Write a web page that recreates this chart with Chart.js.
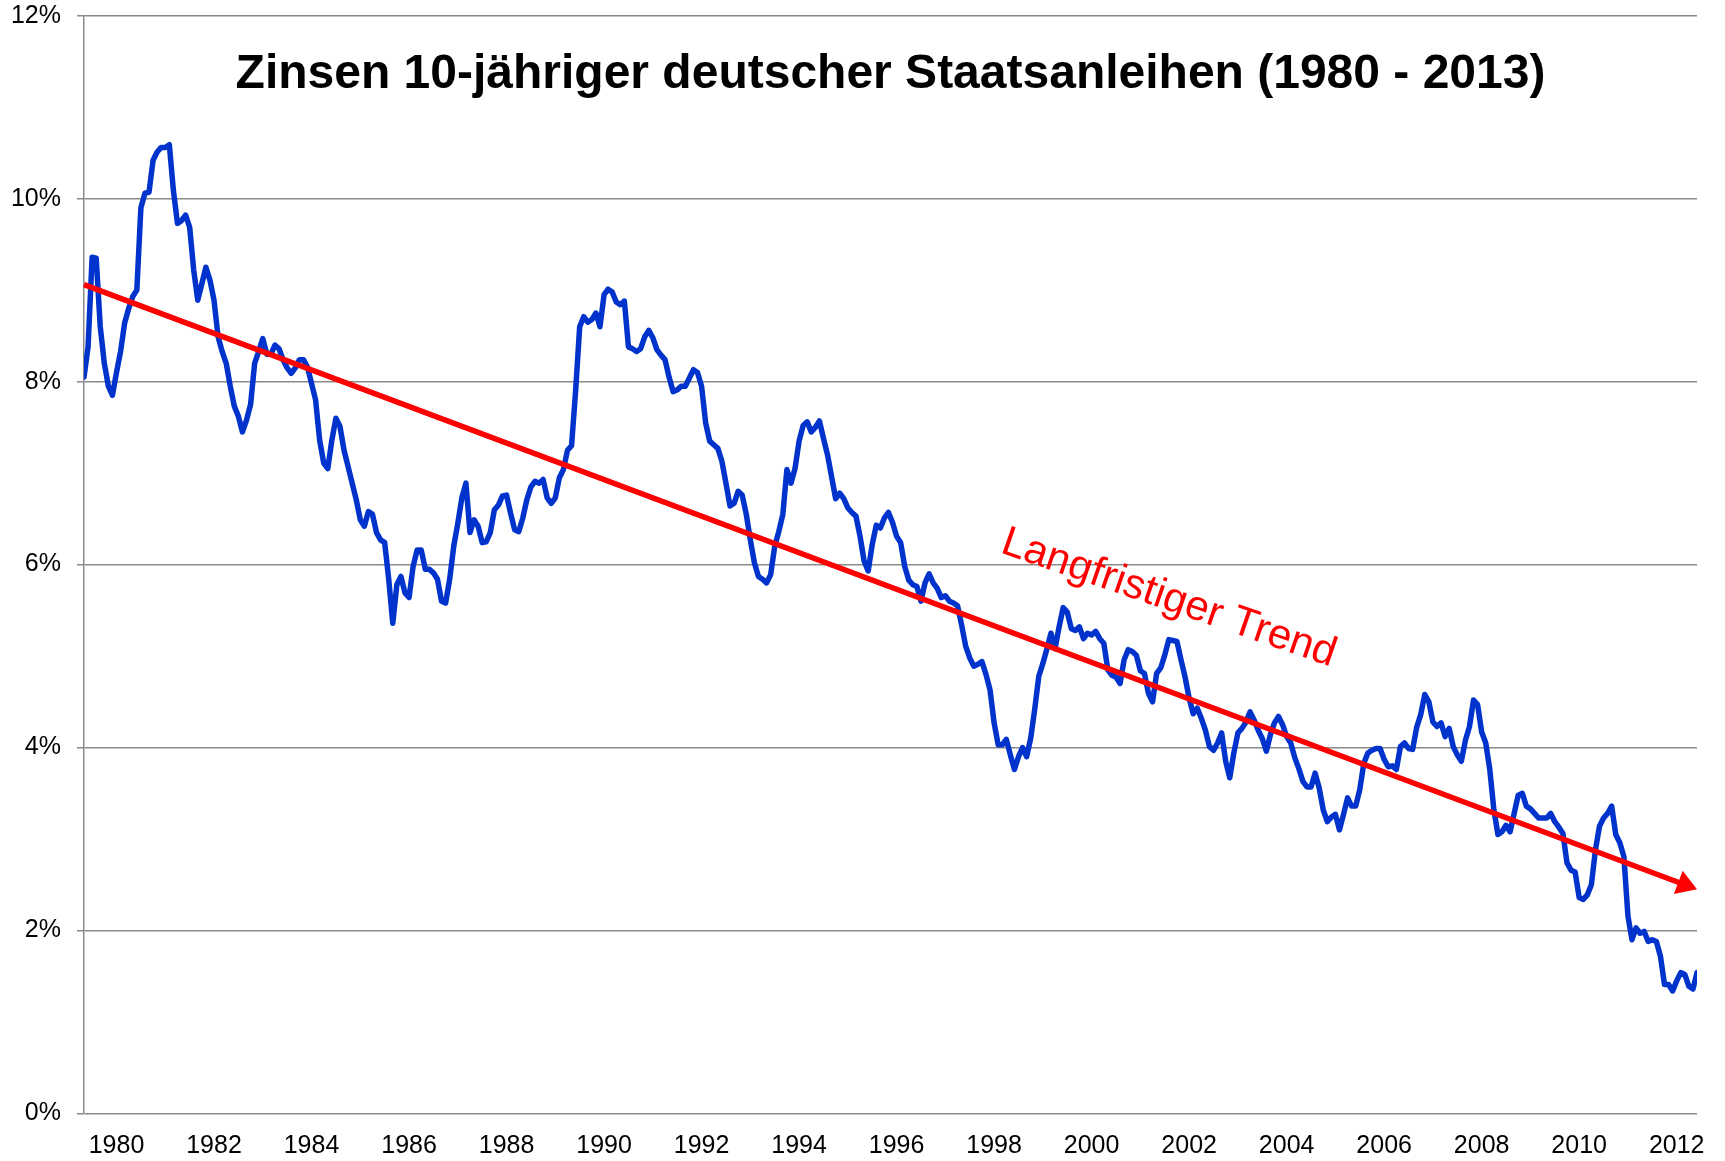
<!DOCTYPE html>
<html>
<head>
<meta charset="utf-8">
<title>Zinsen 10-jähriger deutscher Staatsanleihen</title>
<script src="https://cdn.jsdelivr.net/npm/chart.js@4.4.0/dist/chart.umd.min.js"></script>
<style>
  html, body { margin: 0; padding: 0; background: #fff; }
  #wrap { width: 1725px; height: 1161px; }
</style>
</head>
<body>
<div id="wrap"><canvas id="zinsChart" width="1725" height="1161"></canvas></div>
<script>
// Monatswerte (Rendite in %), Januar 1980 bis Februar 2013
const yields1980s = [
  8.05, 8.38, 9.36, 9.35, 8.6, 8.2, 7.95, 7.85, 8.1, 8.33, 8.64, 8.8,
  8.93, 9.0, 9.9, 10.06, 10.07, 10.42, 10.51, 10.56, 10.56, 10.59, 10.09, 9.73,
  9.76, 9.82, 9.69, 9.22, 8.89, 9.07, 9.25, 9.11, 8.89, 8.49, 8.33, 8.2,
  7.95, 7.73, 7.62, 7.45, 7.58, 7.75, 8.2, 8.33, 8.47, 8.3, 8.3, 8.4,
  8.36, 8.24, 8.15, 8.09, 8.15, 8.24, 8.24, 8.16, 7.98, 7.8, 7.36, 7.11,
  7.05, 7.36, 7.6, 7.51, 7.25, 7.07, 6.89, 6.71, 6.49, 6.42, 6.58, 6.55,
  6.35, 6.27, 6.24, 5.84, 5.36, 5.78, 5.87, 5.69, 5.64, 5.98, 6.16, 6.16,
  5.95, 5.95, 5.91, 5.84, 5.6, 5.58, 5.84, 6.2, 6.45, 6.73, 6.89, 6.35,
  6.49, 6.42, 6.24, 6.25, 6.35, 6.6, 6.65, 6.75, 6.76, 6.56, 6.38, 6.36,
  6.51, 6.71, 6.85, 6.91, 6.89, 6.93, 6.73, 6.67, 6.73, 6.95, 7.04, 7.25
];
const yields1990s = [
  7.3, 7.9, 8.6, 8.71, 8.65, 8.68, 8.75, 8.6, 8.95, 9.01, 8.98, 8.87,
  8.84, 8.88, 8.38, 8.36, 8.33, 8.36, 8.49, 8.56, 8.48, 8.35, 8.29, 8.24,
  8.05, 7.89, 7.91, 7.95, 7.95, 8.04, 8.13, 8.1, 7.95, 7.55, 7.35, 7.31,
  7.27, 7.13, 6.89, 6.64, 6.67, 6.8, 6.76, 6.55, 6.27, 6.02, 5.87, 5.84,
  5.8, 5.89, 6.2, 6.36, 6.55, 7.04, 6.89, 7.05, 7.35, 7.52, 7.56, 7.45,
  7.5, 7.57, 7.38, 7.2, 6.96, 6.72, 6.78, 6.72, 6.62, 6.57, 6.53, 6.31,
  6.04, 5.93, 6.22, 6.43, 6.4, 6.51, 6.57, 6.46, 6.31, 6.24, 5.98, 5.83,
  5.78, 5.76, 5.6, 5.8, 5.9, 5.8, 5.74, 5.64, 5.66, 5.6, 5.58, 5.55,
  5.34, 5.11, 4.98, 4.89, 4.91, 4.94, 4.8, 4.63, 4.27, 4.03, 4.03, 4.09,
  3.92, 3.76, 3.9, 4.0, 3.9, 4.1, 4.42, 4.78, 4.92, 5.08, 5.25, 5.08
];
const yields2000s = [
  5.32, 5.53, 5.48, 5.3, 5.28, 5.32, 5.19, 5.25, 5.23, 5.27, 5.19, 5.14,
  4.85, 4.79, 4.77, 4.7, 4.96, 5.07, 5.05, 5.01, 4.84, 4.81, 4.59, 4.5,
  4.81, 4.87, 5.01, 5.18, 5.17, 5.16, 4.96, 4.77, 4.54, 4.37, 4.43, 4.32,
  4.19, 4.01, 3.97, 4.05, 4.16, 3.85, 3.67, 3.94, 4.16, 4.21, 4.28, 4.39,
  4.3, 4.19, 4.1, 3.96, 4.14, 4.27, 4.34, 4.25, 4.12, 4.05, 3.89, 3.77,
  3.63, 3.57, 3.57, 3.72, 3.56, 3.32, 3.19, 3.24, 3.27, 3.1, 3.27, 3.45,
  3.36, 3.36, 3.54, 3.83, 3.94, 3.97, 3.99, 3.99, 3.87, 3.79, 3.8, 3.76,
  4.01, 4.05, 3.99, 3.98, 4.22, 4.36, 4.58, 4.5, 4.28, 4.23, 4.27, 4.12,
  4.21, 4.01, 3.92, 3.85, 4.08, 4.23, 4.52, 4.47, 4.17, 4.05, 3.76, 3.32,
  3.05, 3.08, 3.15, 3.08, 3.28, 3.48, 3.5, 3.36, 3.33, 3.28, 3.23, 3.23
];
const yields2010s = [
  3.23, 3.28, 3.19, 3.13, 3.06, 2.74, 2.66, 2.64, 2.36, 2.34, 2.39, 2.5,
  2.88, 3.14, 3.23, 3.28, 3.36, 3.05, 2.96, 2.81, 2.16, 1.9, 2.03, 1.97,
  1.99, 1.88, 1.9, 1.88, 1.72, 1.41, 1.41, 1.34, 1.45, 1.54, 1.52, 1.39,
  1.36, 1.54
];

const startYear = 1980;
const tickYears = [1980, 1982, 1984, 1986, 1988, 1990, 1992, 1994, 1996, 1998, 2000, 2002, 2004, 2006, 2008, 2010, 2012];
const labelMonth = 8; // Beschriftung sitzt etwa beim September

// Trendpfeil: Monatsindex / Prozent am Anfang und an der Spitze
const trendX = [0, 397];
const trendY = [9.06, 2.45];
const trendLabelPos = { x: 267, y: 5.63 };

const titleText = 'Zinsen 10-jähriger deutscher Staatsanleihen (1980 - 2013)';
const trendText = 'Langfristiger Trend';

const yields = [...yields1980s, ...yields1990s, ...yields2000s, ...yields2010s];
const points = yields.map((v, i) => ({ x: i, y: v }));

const FONT = 'Arial, "Liberation Sans", sans-serif';
const gridGray = '#8a8a8a';

const overlay = {
    id: 'overlay',
    afterDatasetsDraw(chart) {
        const ctx = chart.ctx;
        const xs = chart.scales.x;
        const ys = chart.scales.y;
        const area = chart.chartArea;

        // Trendpfeil
        const x0 = xs.getPixelForValue(trendX[0]), y0 = ys.getPixelForValue(trendY[0]);
        const x1 = xs.getPixelForValue(trendX[1]), y1 = ys.getPixelForValue(trendY[1]);
        const ang = Math.atan2(y1 - y0, x1 - x0);
        const headLen = 20, headHalf = 12.5;
        const bx = x1 - headLen * Math.cos(ang);
        const by = y1 - headLen * Math.sin(ang);

        ctx.save();
        ctx.strokeStyle = '#ff0000';
        ctx.fillStyle = '#ff0000';
        ctx.lineWidth = 5.5;
        ctx.beginPath();
        ctx.moveTo(x0, y0);
        ctx.lineTo(bx + 2 * Math.cos(ang), by + 2 * Math.sin(ang));
        ctx.stroke();
        ctx.beginPath();
        ctx.moveTo(x1, y1);
        ctx.lineTo(bx + headHalf * Math.sin(ang), by - headHalf * Math.cos(ang));
        ctx.lineTo(bx - headHalf * Math.sin(ang), by + headHalf * Math.cos(ang));
        ctx.closePath();
        ctx.fill();

        // Beschriftung des Trends
        const lx = xs.getPixelForValue(trendLabelPos.x);
        const ly = ys.getPixelForValue(trendLabelPos.y);
        ctx.translate(lx, ly);
        ctx.rotate(19 * Math.PI / 180);
        ctx.font = '42px ' + FONT;
        ctx.textAlign = 'center';
        ctx.textBaseline = 'middle';
        ctx.fillText(trendText, 0, 0);
        ctx.restore();

        // Titel im Diagrammbereich
        ctx.save();
        ctx.fillStyle = '#000';
        ctx.font = 'bold 48px ' + FONT;
        ctx.textAlign = 'center';
        ctx.textBaseline = 'alphabetic';
        ctx.fillText(titleText, (area.left + area.right) / 2, area.top + 72);
        ctx.restore();
    }
};

const ctx = document.getElementById('zinsChart').getContext('2d');
const zinsChart = new Chart(ctx, {
    type: 'line',
    data: {
        datasets: [{
            label: 'Rendite',
            data: points,
            borderColor: '#0033cc',
            borderWidth: 5.5,
            pointRadius: 0,
            tension: 0,
            borderJoinStyle: 'round',
            borderCapStyle: 'round',
            fill: false
        }]
    },
    options: {
        responsive: false,
        animation: false,
        devicePixelRatio: 1,
        layout: { padding: { top: 15.7, right: 28, left: 0, bottom: 0 } },
        plugins: {
            legend: { display: false },
            tooltip: { enabled: false },
            title: { display: false }
        },
        scales: {
            x: {
                type: 'linear',
                min: 0,
                max: yields.length - 1,
                afterFit(scale) { scale.height = 47.5; },
                afterBuildTicks(scale) {
                    scale.ticks = tickYears.map(y => ({ value: (y - startYear) * 12 + labelMonth }));
                },
                ticks: {
                    autoSkip: false,
                    maxRotation: 0,
                    padding: 18,
                    color: '#000',
                    font: { family: FONT, size: 25 },
                    callback: v => String(startYear + Math.round((v - labelMonth) / 12))
                },
                grid: { display: false, drawTicks: false },
                border: { display: false }
            },
            y: {
                min: 0,
                max: 12,
                afterFit(scale) {
                    scale.width = 84;
                    scale.paddingTop = 0;
                    scale.paddingBottom = 0;
                },
                ticks: {
                    stepSize: 2,
                    padding: 16,
                    color: '#000',
                    font: { family: FONT, size: 25 },
                    callback: v => v + '%'
                },
                grid: { color: gridGray, lineWidth: 1.5, tickLength: 7 },
                border: { display: true, color: gridGray, width: 1.5 }
            }
        }
    },
    plugins: [overlay]
});
</script>
</body>
</html>
